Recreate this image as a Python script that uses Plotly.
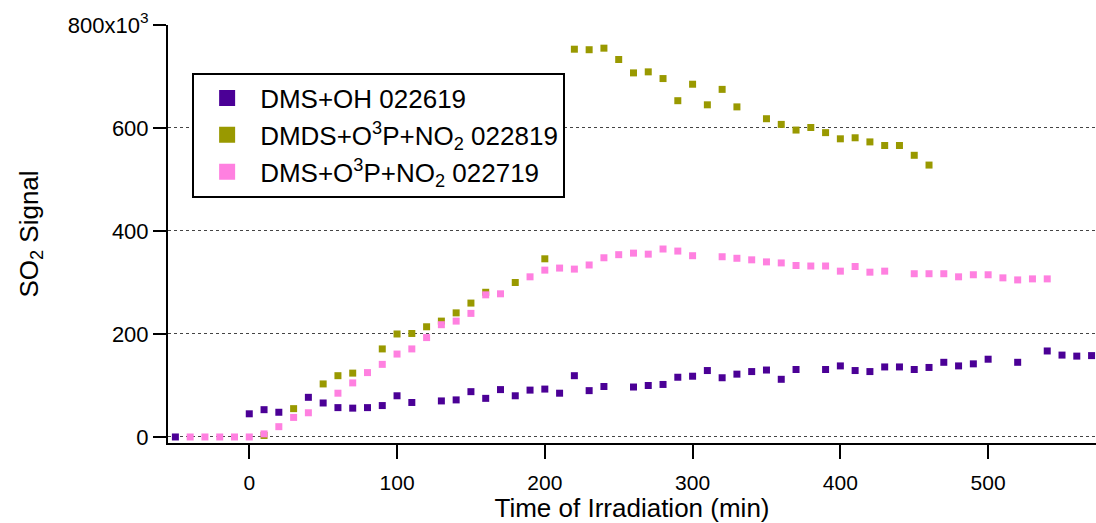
import plotly.graph_objects as go

# DMS+OH 022619
oh_x = [-50, 0, 10, 20, 40, 50, 60, 70, 80, 90, 100, 110, 130, 140, 150, 160, 170, 180, 190, 200,
        210, 220, 230, 240, 260, 270, 280, 290, 300, 310, 320, 330, 340, 350, 360, 370, 390, 400,
        410, 420, 430, 440, 450, 460, 470, 480, 490, 500, 520, 540, 550, 560, 570]
oh_y = [0, 45, 53, 48, 77, 66, 57, 56, 57, 61, 80, 67, 70, 72, 88, 75, 92, 80, 91, 93,
        85, 119, 90, 98, 97, 100, 102, 116, 118, 129, 115, 122, 127, 130, 112, 131, 131, 138,
        129, 127, 136, 136, 131, 135, 145, 138, 142, 151, 145, 167, 159, 157, 158]

# DMDS+O3P+NO2 022819
dmds_x = [10, 30, 50, 60, 70, 90, 100, 110, 120, 130, 140, 150, 160, 180, 200, 220, 230, 240, 250,
          260, 270, 280, 290, 300, 310, 320, 330, 350, 360, 370, 380, 390, 400, 410, 420, 430, 440,
          450, 460]
dmds_y = [3, 55, 103, 119, 124, 171, 200, 201, 214, 225, 241, 260, 281, 300, 346, 753, 752, 755, 733,
          707, 709, 696, 653, 685, 645, 675, 641, 618, 607, 596, 601, 591, 579, 581, 573, 566, 566,
          547, 528]

# DMS+O3P+NO2 022719
o3p_x = [-40, -30, -20, -10, 0, 10, 20, 30, 40, 60, 70, 80, 90, 100, 110, 120, 130, 140, 150, 160,
         170, 190, 200, 210, 220, 230, 240, 250, 260, 270, 280, 290, 300, 320, 330, 340, 350, 360,
         370, 380, 390, 400, 410, 420, 430, 450, 460, 470, 480, 490, 500, 510, 520, 530, 540]
o3p_y = [0, 0, 0, 0, 0, 6, 20, 38, 47, 85, 105, 125, 141, 161, 171, 193, 218, 225, 240, 276,
         278, 311, 324, 328, 326, 334, 348, 354, 357, 355, 365, 361, 352, 350, 347, 344, 340, 338,
         333, 332, 332, 322, 331, 320, 322, 317, 317, 317, 311, 315, 315, 309, 305, 307, 307]

names = ["DMS+OH 022619",
         "DMDS+O<sup>3</sup>P+NO<sub>2</sub> 022819",
         "DMS+O<sup>3</sup>P+NO<sub>2</sub> 022719"]
colors = ["#4b0096", "#999900", "#ff80e0"]

y_tickvals = [0, 200, 400, 600, 800]
y_ticktext = ["0", "200", "400", "600", "800x10<sup>3</sup>"]
x_tickvals = [0, 100, 200, 300, 400, 500]

FONT = "Liberation Sans, Arial, sans-serif"

fig = go.Figure()
series = [(oh_x, oh_y), (dmds_x, dmds_y), (o3p_x, o3p_y)]
for (xs, ys), nm, c in zip(series, names, colors):
    fig.add_trace(go.Scatter(x=xs, y=ys, mode="markers", showlegend=False,
                             marker=dict(symbol="square", size=7, color=c, line=dict(width=0))))
for i, (nm, c) in enumerate(zip(names, colors)):
    fig.add_trace(go.Scatter(x=[None], y=[None], mode="markers", name=nm, legendgroup=f"g{i}",
                             marker=dict(symbol="square", size=16, color=c, line=dict(width=0))))

fig.update_layout(
    width=1096, height=523,
    margin=dict(l=168, r=0, t=25, b=80),
    paper_bgcolor="white", plot_bgcolor="white",
    font=dict(family=FONT, size=22, color="black"),
    showlegend=True,
    legend=dict(x=0.026, y=0.886, xanchor="left", yanchor="top",
                bordercolor="black", borderwidth=2, bgcolor="white",
                font=dict(family=FONT, size=26, color="black"),
                itemwidth=56, tracegroupgap=0, traceorder="grouped"),
    xaxis=dict(range=[-55, 573], tickvals=x_tickvals, showgrid=False, zeroline=False,
               showline=True, linecolor="black", linewidth=2,
               ticks="outside", ticklen=14, tickwidth=2, tickcolor="black",
               tickfont=dict(size=21), ticklabelstandoff=6,
               title=dict(text="Time of Irradiation (min)", font=dict(size=26), standoff=3)),
    yaxis=dict(range=[-11.7, 800], tickvals=y_tickvals, ticktext=y_ticktext,
               showgrid=True, gridcolor="#444444", gridwidth=1, griddash="dot", zeroline=False,
               showline=True, linecolor="black", linewidth=2,
               ticks="outside", ticklen=13, tickwidth=2, tickcolor="black",
               tickfont=dict(size=22),
               title=dict(text="SO<sub>2</sub> Signal", font=dict(size=26), standoff=22)),
)

fig.write_html("out.html")
